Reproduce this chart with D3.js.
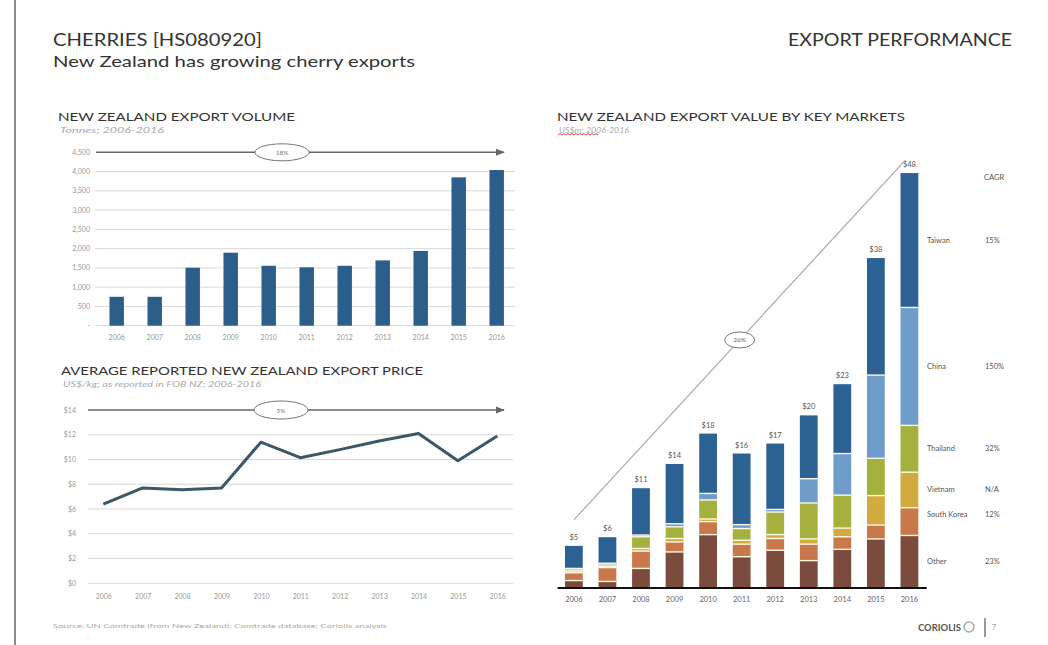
<!DOCTYPE html>
<html><head><meta charset="utf-8">
<script src="https://cdn.jsdelivr.net/npm/d3@7"></script>
<style>
body{margin:0;background:#fff}
text{font-family:Lato,'Open Sans',sans-serif}
</style></head>
<body><svg id="c" width="1048" height="645"></svg>
<script>
// ---------- DATA ----------
const years = ["2006","2007","2008","2009","2010","2011","2012","2013","2014","2015","2016"];
const volumeTonnes = [750, 750, 1505, 1895, 1555, 1515, 1555, 1695, 1940, 3850, 4040];
const volumeTicks = [0,500,1000,1500,2000,2500,3000,3500,4000,4500];
const volumeTickLabels = ["-","500","1,000","1,500","2,000","2,500","3,000","3,500","4,000","4,500"];
const volumeCagr = "18%";

const priceUsdKg = [6.4, 7.7, 7.55, 7.7, 11.4, 10.15, 10.8, 11.5, 12.1, 9.9, 11.9];
const priceTicks = [0,2,4,6,8,10,12,14];
const priceTickLabels = ["$0","$2","$4","$6","$8","$10","$12","$14"];
const priceCagr = "5%";

const markets = ["Other","South Korea","Vietnam","Thailand","China","Taiwan"];
const other      = [0.8, 0.7, 2.2, 4.1, 6.1, 3.55, 4.3, 3.1, 4.4, 5.6, 6.0];
const southKorea = [0.9, 1.6, 2.0, 1.15, 1.5, 1.45, 1.35, 1.9, 1.45, 1.6, 3.2];
const vietnam    = [0.1, 0.1, 0.3, 0.4, 0.3, 0.45, 0.45, 0.6, 1.0, 3.4, 4.1];
const thailand   = [0.2, 0.2, 1.35, 1.35, 2.2, 1.35, 2.6, 4.15, 3.8, 4.3, 5.4];
const china      = [0.2, 0.2, 0.2, 0.35, 0.75, 0.45, 0.3, 2.8, 4.8, 9.6, 13.6];
const taiwan     = [2.6, 3.0, 5.4, 6.9, 6.9, 8.2, 7.6, 7.3, 8.0, 13.5, 15.5];
const totalLabels = ["$5","$6","$11","$14","$18","$16","$17","$20","$23","$38","$48"];
const marketCagr = ["23%","12%","N/A","32%","150%","15%"];
const valueCagr = "26%";

// ---------- SETUP ----------
const svg = d3.select("#c");
svg.append("rect").attr("width",1048).attr("height",645).attr("fill","#fff");
const defs = svg.append("defs");
defs.append("marker").attr("id","arr").attr("viewBox","0 0 10 10").attr("refX",9).attr("refY",5)
  .attr("markerWidth",6).attr("markerHeight",6).attr("orient","auto")
  .append("path").attr("d","M0,1 L10,5 L0,9 z").attr("fill","#666");

// left rule
svg.append("line").attr("x1",15).attr("x2",15).attr("y1",0).attr("y2",645).attr("stroke","#8a8a8a").attr("stroke-width",2);

// headings
svg.append("text").attr("x",53).attr("y",46).attr("font-size",18).attr("fill","#333")
  .attr("textLength",209).attr("lengthAdjust","spacingAndGlyphs").text("CHERRIES [HS080920]");
svg.append("text").attr("x",53).attr("y",67).attr("font-size",16).attr("fill","#333")
  .attr("textLength",362).attr("lengthAdjust","spacingAndGlyphs").text("New Zealand has growing cherry exports");
svg.append("text").attr("x",788).attr("y",46).attr("font-size",18).attr("fill","#333")
  .attr("textLength",224).attr("lengthAdjust","spacingAndGlyphs").text("EXPORT PERFORMANCE");

function chartTitle(x,y,t,len,sub,subLen){
  svg.append("text").attr("x",x).attr("y",y).attr("font-size",11.5).attr("fill","#333")
    .attr("textLength",len).attr("lengthAdjust","spacingAndGlyphs").text(t);
  svg.append("text").attr("x",x+2).attr("y",y+12).attr("font-size",8).attr("font-style","italic")
    .attr("fill","#aaa").attr("textLength",subLen).attr("lengthAdjust","spacingAndGlyphs").text(sub);
}

// ---------- VOLUME CHART ----------
chartTitle(58,121,"NEW ZEALAND EXPORT VOLUME",237,"Tonnes; 2006-2016",104);
const xv = d3.scaleBand().domain(years).range([97.7,515.7]).paddingInner(0.62).paddingOuter(0.31);
const yv = d3.scaleLinear().domain([0,4500]).range([325.7,152.3]);
const gv = svg.append("g");
volumeTicks.forEach((t,i)=>{
  if(i<volumeTicks.length-1)
    gv.append("line").attr("x1",95).attr("x2",515).attr("y1",yv(t)).attr("y2",yv(t)).attr("stroke","#d9d9d9").attr("stroke-width",1);
  gv.append("text").attr("x",90).attr("y",yv(t)+2.5).attr("text-anchor","end").attr("font-size",7)
    .attr("fill","#999").text(volumeTickLabels[i]);
});
gv.selectAll("rect.b").data(volumeTonnes).join("rect").attr("class","b")
  .attr("x",(d,i)=>xv(years[i])).attr("width",xv.bandwidth())
  .attr("y",d=>yv(d)).attr("height",d=>yv(0)-yv(d)).attr("fill","#2b5e8b");
gv.append("g").attr("transform",`translate(0,${yv(0)})`)
  .call(d3.axisBottom(xv).tickSize(0).tickPadding(9))
  .call(g=>{g.select(".domain").remove();g.selectAll("text").attr("font-size",7).attr("fill","#999").attr("font-family","Lato,sans-serif");});
// CAGR arrow
gv.append("line").attr("x1",96).attr("x2",504).attr("y1",yv(4500)).attr("y2",yv(4500))
  .attr("stroke","#666").attr("stroke-width",1.5).attr("marker-end","url(#arr)");
gv.append("ellipse").attr("cx",282).attr("cy",yv(4500)).attr("rx",27).attr("ry",8.5).attr("fill","#fff").attr("stroke","#777").attr("stroke-width",1);
gv.append("text").attr("x",282).attr("y",yv(4500)+2.5).attr("text-anchor","middle").attr("font-size",6.5).attr("fill","#777").text(volumeCagr);

// ---------- PRICE CHART ----------
chartTitle(61,375,"AVERAGE REPORTED NEW ZEALAND EXPORT PRICE",362,"US$/kg; as reported in FOB NZ; 2006-2016",198);
const xp = d3.scalePoint().domain(years).range([103.3,497.3]);
const yp = d3.scaleLinear().domain([0,14]).range([583.3,410]);
const gp = svg.append("g");
priceTicks.forEach((t,i)=>{
  if(i<priceTicks.length-1)
    gp.append("line").attr("x1",88).attr("x2",513).attr("y1",yp(t)).attr("y2",yp(t)).attr("stroke","#d9d9d9").attr("stroke-width",1);
  gp.append("text").attr("x",76).attr("y",yp(t)+2.5).attr("text-anchor","end").attr("font-size",7)
    .attr("fill","#999").text(priceTickLabels[i]);
});
gp.append("g").attr("transform",`translate(0,${yp(0)})`)
  .call(d3.axisBottom(xp).tickSize(0).tickPadding(11))
  .call(g=>{g.select(".domain").remove();g.selectAll("text").attr("font-size",7).attr("fill","#999").attr("font-family","Lato,sans-serif");});
gp.append("path").datum(priceUsdKg)
  .attr("d",d3.line().x((d,i)=>xp(years[i])).y(d=>yp(d)))
  .attr("fill","none").attr("stroke","#3b5868").attr("stroke-width",3).attr("stroke-linejoin","round");
gp.append("line").attr("x1",88).attr("x2",504).attr("y1",yp(14)).attr("y2",yp(14))
  .attr("stroke","#666").attr("stroke-width",1.5).attr("marker-end","url(#arr)");
gp.append("ellipse").attr("cx",281).attr("cy",yp(14)).attr("rx",27).attr("ry",9).attr("fill","#fff").attr("stroke","#777").attr("stroke-width",1);
gp.append("text").attr("x",281).attr("y",yp(14)+2.5).attr("text-anchor","middle").attr("font-size",6.5).attr("fill","#777").text(priceCagr);

// ---------- VALUE BY MARKET CHART ----------
chartTitle(557,121,"NEW ZEALAND EXPORT VALUE BY KEY MARKETS",348,"US$m; 2006-2016",70);
// spell-check squiggle under "US$m"
{
  let d="M558,135"; for(let i=0;i<10;i++){ d+=` l2,-1.5 l2,1.5`; }
  svg.append("path").attr("d",d).attr("fill","none").attr("stroke","#d33").attr("stroke-width",0.9);
}
const series = [other, southKorea, vietnam, thailand, china, taiwan];
const colors = ["#7b4b3d","#c8784a","#d1ab3d","#a5b13e","#6f9dc9","#2c6193"];
const rows = years.map((y,i)=>{const o={year:y}; markets.forEach((m,k)=>o[m]=series[k][i]); return o;});
const stack = d3.stack().keys(markets)(rows);
const xr = d3.scaleBand().domain(years).range([557.1,926.2]).paddingInner(0.47).paddingOuter(0.235);
const yr = d3.scaleLinear().domain([0,50]).range([587.5,154]);
const gr = svg.append("g");
gr.selectAll("g.s").data(stack).join("g").attr("class","s").attr("fill",(d,i)=>colors[i])
  .selectAll("rect").data(d=>d).join("rect")
  .attr("x",d=>xr(d.data.year)).attr("width",xr.bandwidth())
  .attr("y",d=>yr(d[1])).attr("height",d=>Math.max(0,yr(d[0])-yr(d[1])));
// separators
stack.slice(0,-1).forEach(s=>{
  gr.selectAll(null).data(s).join("line")
    .attr("x1",d=>xr(d.data.year)).attr("x2",d=>xr(d.data.year)+xr.bandwidth())
    .attr("y1",d=>yr(d[1])).attr("y2",d=>yr(d[1]))
    .attr("stroke","#fbf8e6").attr("stroke-width",1.4);
});
const totals = years.map((y,i)=>series.reduce((a,s)=>a+s[i],0));
gr.selectAll("text.t").data(totals).join("text").attr("class","t")
  .attr("x",(d,i)=>xr(years[i])+xr.bandwidth()/2).attr("y",d=>yr(d)-6)
  .attr("text-anchor","middle").attr("font-size",7.5).attr("fill","#555").text((d,i)=>totalLabels[i]);
gr.append("g").attr("transform",`translate(0,${yr(0)})`)
  .call(d3.axisBottom(xr).tickSize(0).tickPadding(9))
  .call(g=>{g.select(".domain").attr("stroke","#111").attr("stroke-width",2);
            g.selectAll("text").attr("font-size",7.5).attr("fill","#666").attr("font-family","Lato,sans-serif");});
// CAGR diagonal
const xs = xr("2006")+xr.bandwidth()/2, ys = yr(7.8);
const xe = xr("2016")+xr.bandwidth()/2-4, ye = yr(49.3);
gr.append("line").attr("x1",xs).attr("y1",ys).attr("x2",xe).attr("y2",ye).attr("stroke","#aaa").attr("stroke-width",1.2);
gr.append("ellipse").attr("cx",(xs+xe)/2).attr("cy",(ys+ye)/2).attr("rx",15).attr("ry",8).attr("fill","#fff").attr("stroke","#777").attr("stroke-width",1);
gr.append("text").attr("x",(xs+xe)/2).attr("y",(ys+ye)/2+2.5).attr("text-anchor","middle").attr("font-size",6.5).attr("fill","#666").text(valueCagr);
// legend (aligned with 2016 segments)
const last = years.length-1;
const lg = svg.append("g").attr("font-size",7.5).attr("fill","#555");
lg.append("text").attr("x",984).attr("y",yr(0)-0+0).attr("y",180).text("CAGR");
stack.forEach((s,k)=>{
  let yc = (yr(s[last][0])+yr(s[last][1]))/2 + 2.5;
  if(markets[k]==="South Korea") yc -= 7;
  lg.append("text").attr("x",927).attr("y",yc).text(markets[k]);
  lg.append("text").attr("x",985).attr("y",yc).text(marketCagr[k]);
});

// ---------- FOOTER ----------
svg.append("text").attr("x",53).attr("y",628).attr("font-size",6.5).attr("fill","#aaa")
  .attr("textLength",334).attr("lengthAdjust","spacingAndGlyphs")
  .text("Source: UN Comtrade (from New Zealand); Comtrade database; Coriolis analysis");
svg.append("text").attr("x",918).attr("y",631).attr("font-size",9).attr("font-weight","bold").attr("fill","#555")
  .attr("textLength",43).attr("lengthAdjust","spacingAndGlyphs").text("CORIOLIS");
svg.append("circle").attr("cx",969).attr("cy",627).attr("r",5).attr("fill","none").attr("stroke","#aaa").attr("stroke-width",1.5);
svg.append("line").attr("x1",985).attr("x2",985).attr("y1",618).attr("y2",637).attr("stroke","#555").attr("stroke-width",1.2);
svg.append("text").attr("x",992).attr("y",630).attr("font-size",7).attr("fill","#999").text("7");
</script></body></html>
